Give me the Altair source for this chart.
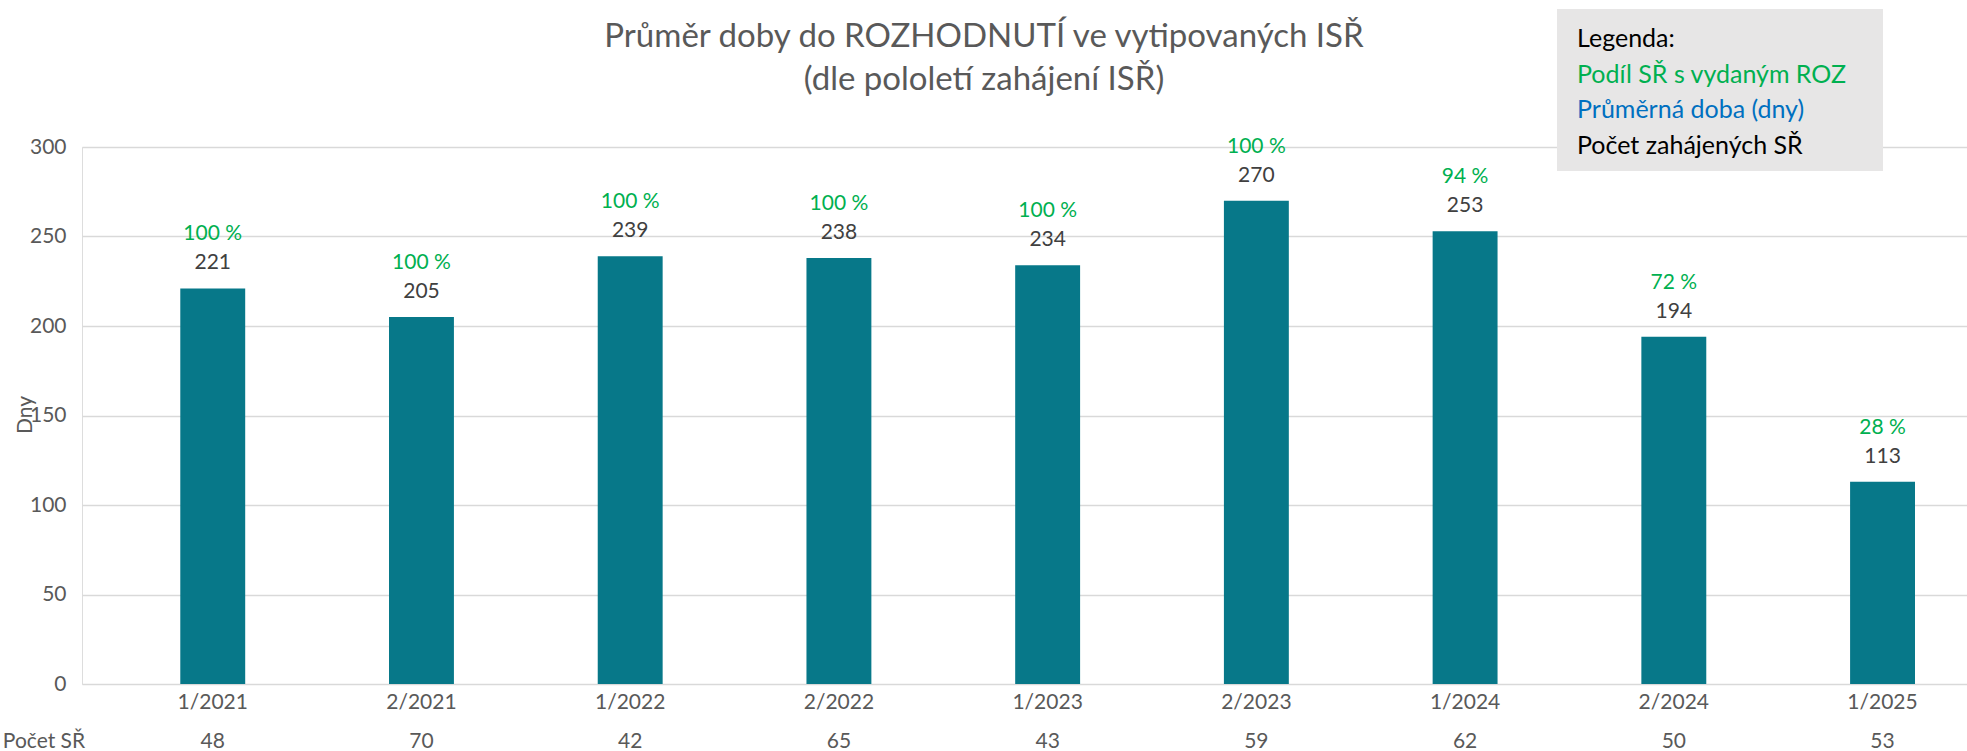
import altair as alt
import pandas as pd

periods = ["1/2021", "2/2021", "1/2022", "2/2022", "1/2023", "2/2023", "1/2024", "2/2024", "1/2025"]
avg_days = [221, 205, 239, 238, 234, 270, 253, 194, 113]
share_pct = [100, 100, 100, 100, 100, 100, 94, 72, 28]
counts = [48, 70, 42, 65, 43, 59, 62, 50, 53]

title_lines = ["Průměr doby do ROZHODNUTÍ ve vytipovaných ISŘ", "(dle pololetí zahájení ISŘ)"]
legend_lines = ["Legenda:", "Podíl SŘ s vydaným ROZ", "Průměrná doba (dny)", "Počet zahájených SŘ"]
legend_colors = ["#000000", "#00B050", "#0070C0", "#000000"]

df = pd.DataFrame({
    "period": periods,
    "days": avg_days,
    "pct": share_pct,
    "count": counts,
})
df["pct_label"] = df["pct"].astype(str) + " %"
df["count_label"] = df["count"].astype(str)

FONT = "Lato"
GRAY = "#595959"
W, H = 1885, 537
FS = 21

x = alt.X("period:N", sort=periods, title=None,
          scale=alt.Scale(paddingInner=0.689, paddingOuter=0.36, align=0.654),
          axis=alt.Axis(labelAngle=0, labelFont=FONT, labelFontSize=FS, labelColor=GRAY,
                        labelPadding=7, ticks=False, domain=False, grid=False))
y = alt.Y("days:Q", title=None,
          scale=alt.Scale(domain=[0, 300], nice=False),
          axis=alt.Axis(values=[0, 50, 100, 150, 200, 250, 300], labelFont=FONT, labelFontSize=FS,
                        labelColor=GRAY, labelPadding=16, ticks=False, domain=False,
                        gridColor="#D9D9D9", gridWidth=1.5))

base = alt.Chart(df)

bars = base.mark_bar(color="#077889").encode(x=x, y=y)

val_text = base.mark_text(font=FONT, fontSize=FS, color="#404040", baseline="bottom", dy=-15).encode(
    x=alt.X("period:N", sort=periods), y="days:Q", text="days:Q")

pct_text = base.mark_text(font=FONT, fontSize=FS, color="#00B050", baseline="bottom", dy=-44).encode(
    x=alt.X("period:N", sort=periods), y="days:Q", text="pct_label:N")

count_text = base.mark_text(font=FONT, fontSize=FS, color=GRAY, baseline="middle").encode(
    x=alt.X("period:N", sort=periods), y=alt.value(595), text="count_label:N")

def lone_text(txt, xv, yv, color, size, align="center", baseline="middle", angle=None):
    kw = dict(font=FONT, fontSize=size, color=color, align=align, baseline=baseline)
    if angle is not None:
        kw["angle"] = angle
    return alt.Chart(pd.DataFrame({"t": [txt]})).mark_text(**kw).encode(
        x=alt.value(xv), y=alt.value(yv), text="t:N")

count_head = lone_text("Počet SŘ", -38, 595, GRAY, FS)
y_title = lone_text("Dny", -56, 268, GRAY, FS, angle=270)

title1 = lone_text(title_lines[0], 902, -110, GRAY, 33)
title2 = lone_text(title_lines[1], 902, -67, GRAY, 33)

legend_box = alt.Chart(pd.DataFrame({"a": [0]})).mark_rect(color="#E7E6E6").encode(
    x=alt.value(1475), x2=alt.value(1801), y=alt.value(-138), y2=alt.value(24))

leg_y = [-100, -64.5, -29, 6.5]
legend_layers = [lone_text(t, 1495, yy, c, 25, align="left", baseline="alphabetic")
                 for t, yy, c in zip(legend_lines, leg_y, legend_colors)]

chart = alt.layer(bars, val_text, pct_text, count_text, count_head, y_title, title1, title2,
                  legend_box, *legend_layers).properties(
    width=W, height=H,
    autosize=alt.AutoSizeParams(type="none"),
    padding={"left": 82, "top": 147, "right": 0, "bottom": 67},
).configure_view(stroke=None).configure(background="white")

chart.save("out.html", embed_options={"renderer": "svg", "actions": False})
